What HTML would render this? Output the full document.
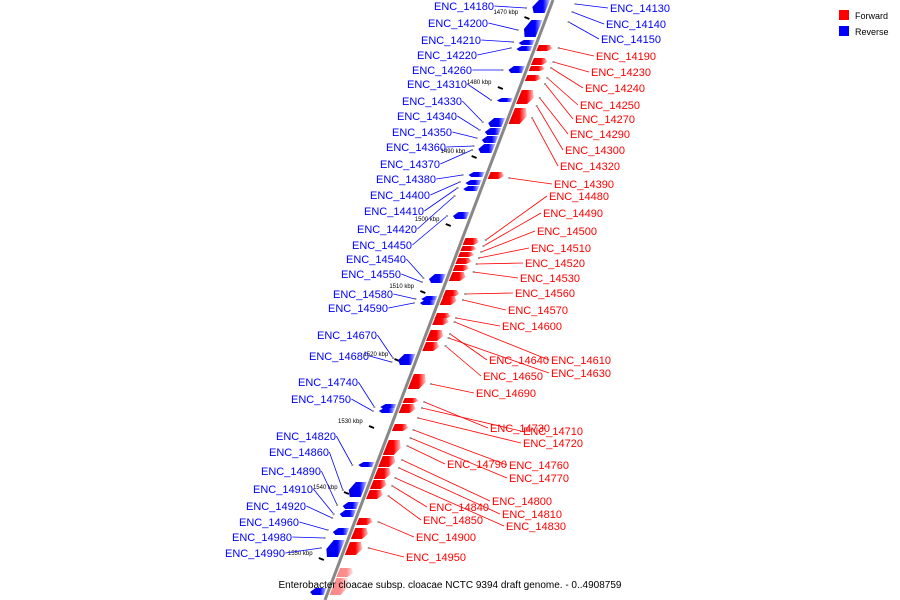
<!DOCTYPE html>
<html><head><meta charset="utf-8"><style>
body{margin:0;background:#fff;width:900px;height:600px;overflow:hidden}
svg{display:block}
text{font-family:"Liberation Sans",sans-serif}
</style></head><body>
<svg id="map" width="900" height="600" viewBox="0 0 900 600">
<defs>
<linearGradient id="gr" x1="0" x2="1"><stop offset="0" stop-color="#d00"/><stop offset="0.6" stop-color="#f00"/><stop offset="1" stop-color="#fcc"/></linearGradient>
<linearGradient id="gb" x1="0" x2="1"><stop offset="0" stop-color="#00d"/><stop offset="0.6" stop-color="#00f"/><stop offset="1" stop-color="#ccf"/></linearGradient>
</defs>
<g id="ticks"></g><g id="links"></g><g id="genes"></g>
<line x1="553" y1="0" x2="325" y2="600" stroke="#888" stroke-width="3"/>
<g id="labels"></g>
<g>
<rect x="839" y="10" width="10" height="10" fill="#f00"/>
<text x="855" y="19" font-size="9">Forward</text>
<rect x="839" y="26" width="10" height="10" fill="#00f"/>
<text x="855" y="35" font-size="9">Reverse</text>
</g>
<text x="450" y="588" font-size="10" text-anchor="middle">Enterobacter cloacae subsp. cloacae NCTC 9394 draft genome. - 0..4908759</text>
</svg>
<script>
const NS="http://www.w3.org/2000/svg";
const tickKbp=[1470,1480,1490,1500,1510,1520,1530,1540,1550];
const tickY=[12,82,151,219,286,354,421,487,553];
const fwdStart=[45,58,66,75,90,108,172,238,246,252,258,265,272,290,296,313,318,330,342,374,398,404,424,440,456,468,480,490,518,528,542,568,578];
const fwdEnd=[52,66,72,82,105,125,180,246,252,258,265,272,282,298,306,320,326,342,352,390,404,414,432,456,468,480,490,500,526,540,556,578,596];
const revStart=[0,20,40,46,66,98,118,128,136,144,172,180,186,212,274,296,300,354,404,408,462,482,502,510,528,540,588];
const revEnd=[14,38,46,52,74,103,128,136,144,154,178,186,192,220,284,302,306,366,410,414,468,498,510,518,536,558,596];
const revNames=["ENC_14180","ENC_14200","ENC_14210","ENC_14220","ENC_14260","ENC_14310","ENC_14330","ENC_14340","ENC_14350","ENC_14360","ENC_14370","ENC_14380","ENC_14400","ENC_14410","ENC_14420","ENC_14450","ENC_14540","ENC_14550","ENC_14580","ENC_14590","ENC_14670","ENC_14680","ENC_14740","ENC_14750","ENC_14820","ENC_14860","ENC_14890","ENC_14910","ENC_14920","ENC_14960","ENC_14980","ENC_14990"];
const revLX=[464,458,451,447,442,437,432,427,422,416,410,406,400,394,387,382,376,371,363,358,347,339,328,321,306,299,291,283,276,269,262,255];
const revLY=[6,23,40,55,70,84,101,116,132,147,164,179,195,211,229,245,259,274,294,308,335,356,382,399,436,452,471,489,506,522,537,553];
const revGY=[8,30,42,48,70,100,122,130,138,146,150,175,182,188,196,216,278,282,299,303,358,362,407,411,465,490,505,514,518,530,538,548];
const revRNames=["ENC_14130","ENC_14140","ENC_14150"];
const revRLX=[610,606,601];
const revRLY=[8,24,39];
const revRGY=[4,12,22];
const fwdNames=["ENC_14190","ENC_14230","ENC_14240","ENC_14250","ENC_14270","ENC_14290","ENC_14300","ENC_14320","ENC_14390","ENC_14480","ENC_14490","ENC_14500","ENC_14510","ENC_14520","ENC_14530","ENC_14560","ENC_14570","ENC_14600","ENC_14640","ENC_14610","ENC_14650","ENC_14630","ENC_14690","ENC_14730","ENC_14710","ENC_14720","ENC_14790","ENC_14760","ENC_14770","ENC_14800","ENC_14840","ENC_14810","ENC_14850","ENC_14830","ENC_14900","ENC_14950"];
const fwdLX=[596,591,585,580,575,570,565,560,554,549,543,537,531,525,520,515,508,502,489,551,483,551,476,490,523,523,447,509,509,492,429,502,423,506,416,406];
const fwdLY=[56,72,88,105,119,134,150,166,184,196,213,231,248,263,278,293,310,326,360,360,376,373,393,428,431,443,464,465,478,501,507,514,520,526,537,557];
const fwdGY=[48,62,68,78,84,98,106,118,178,240,246,252,258,264,272,294,300,318,334,322,346,338,384,402,408,418,446,430,438,460,486,468,496,478,522,548];

const ax=y=>553-0.38*y;
function el(tag,attrs,parent){const e=document.createElementNS(NS,tag);for(const k in attrs)e.setAttribute(k,attrs[k]);parent.appendChild(e);return e;}
const gT=document.getElementById('ticks'),gL=document.getElementById('links'),gG=document.getElementById('genes'),gX=document.getElementById('labels');

tickKbp.forEach((k,i)=>{const y=tickY[i];const x=ax(y);
 const t=el('text',{x:x-55,y:y+2,'font-size':6,'font-family':'Liberation Serif'},gT);t.textContent=k+" kbp";
 
 
 const d=el('line',{x1:x-24,y1:y+5,x2:x-19,y2:y+7,stroke:'#000','stroke-width':2},gT);
 
 
});

function gene(y0,y1,fwd,i){
 const a=fwd?3:-3, b=fwd?18:-18;
 const m=(y0+y1)/2;
 const p=fwd?[[ax(y0)+a,y0],[ax(y0)+b-4,y0],[ax(m)+b,m],[ax(y1)+b-4,y1-1],[ax(y1)+a,y1-1]]
            :[[ax(y0)+a,y0],[ax(y0)+b+4,y0],[ax(m)+b,m],[ax(y1)+b+4,y1-1],[ax(y1)+a,y1-1]];
 const g=el('polygon',{points:p.map(q=>q.join(',')).join(' '),fill:fwd?'url(#gr)':'url(#gb)'},gG);
 if(fwd&&y0>560)g.setAttribute('opacity','0.45');
 
 
}
fwdStart.forEach((v,i)=>gene(v,fwdEnd[i],true,i));
revStart.forEach((v,i)=>gene(v,revEnd[i],false,i));

function label(name,lx,ly,gy,color,anchor,side){
 const t=el('text',{x:lx,y:ly+4,'font-size':11,fill:color,'text-anchor':anchor},gX);
 t.textContent=name;
 
 
 const w=name.length*6.3/2;
 const sx=anchor==='middle'?(side<0?lx+w+2:lx-w-2):lx-2;
 const gx=ax(gy)+(side<0?-24:24);
 const l=el('line',{x1:sx,y1:ly,x2:gx,y2:gy,stroke:color,'stroke-width':0.8},gL);
 
 
 el('rect',{x:gx-1,y:gy-1,width:2,height:2,fill:'#999'},gL);
}
revNames.forEach((n,i)=>label(n,revLX[i],revLY[i],revGY[i],'#00f','middle',-1));
revRNames.forEach((n,i)=>label(n,revRLX[i],revRLY[i],revRGY[i],'#00f','start',1));
fwdNames.forEach((n,i)=>label(n,fwdLX[i],fwdLY[i],fwdGY[i],'#f00','start',1));
</script>
</body></html>
